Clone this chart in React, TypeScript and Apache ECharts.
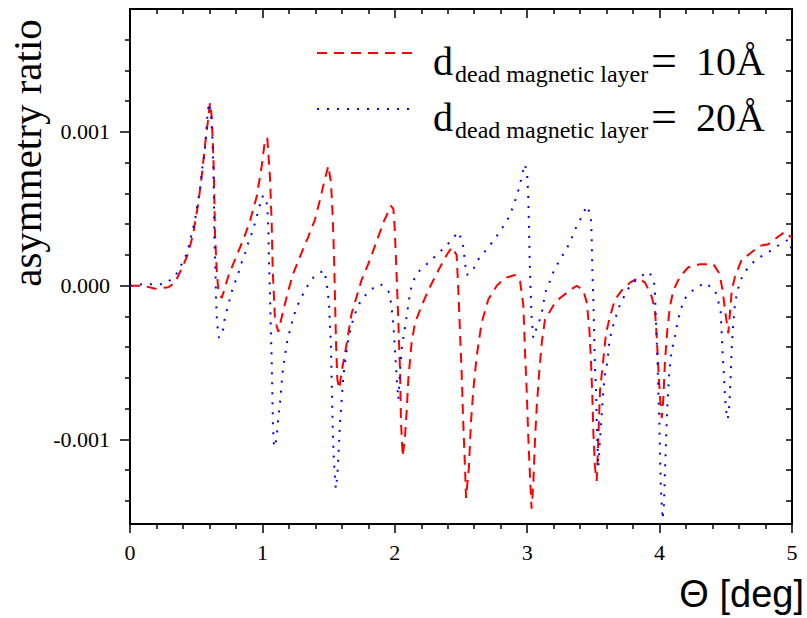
import React, { useEffect, useRef } from "react";
import * as echarts from "echarts";

// Θ [deg] and asymmetry ratio (in units of 1e-3) for d = 10 Å (red, dashed)
const theta10 = [
  0.0, 0.1, 0.19, 0.29, 0.34, 0.4, 0.44, 0.48, 0.516, 0.54, 0.566, 0.587, 0.604, 0.617, 0.63, 0.637, 0.642, 0.655, 0.667, 0.693,
  0.742, 0.793, 0.856, 0.906, 0.957, 0.995, 1.02, 1.037, 1.057, 1.07, 1.078, 1.095, 1.12, 1.158, 1.196, 1.233, 1.284, 1.347, 1.397,
  1.435, 1.468, 1.498, 1.518, 1.531, 1.541, 1.548, 1.556, 1.566, 1.581, 1.6, 1.624, 1.649, 1.674, 1.712, 1.75, 1.813, 1.863, 1.918,
  1.971, 1.989, 2.0, 2.014, 2.027, 2.04, 2.047, 2.06, 2.077, 2.09, 2.102, 2.127, 2.153, 2.203, 2.253, 2.329, 2.392, 2.43, 2.467,
  2.48, 2.492, 2.505, 2.517, 2.53, 2.538, 2.56, 2.575, 2.593, 2.618, 2.656, 2.706, 2.77, 2.832, 2.908, 2.946, 2.971, 2.983, 2.996,
  3.008, 3.02, 3.033, 3.046, 3.06, 3.072, 3.09, 3.11, 3.134, 3.197, 3.248, 3.323, 3.374, 3.424, 3.45, 3.47, 3.482, 3.492, 3.5,
  3.512, 3.525, 3.537, 3.55, 3.575, 3.595, 3.625, 3.663, 3.714, 3.776, 3.839, 3.89, 3.94, 3.965, 3.978, 3.99, 4.003, 4.016, 4.028,
  4.04, 4.058, 4.079, 4.104, 4.154, 4.217, 4.305, 4.406, 4.451, 4.476, 4.494, 4.519, 4.545, 4.57, 4.62, 4.683, 4.758, 4.82, 4.897,
  4.947, 5.0,
];
const ratio10_milli = [
  0.0, 0.0, -0.02, -0.01, 0.02, 0.13, 0.21, 0.35, 0.54, 0.7, 0.91, 1.06, 1.19, 1.1, 0.84, 0.58, 0.34, 0.1, -0.03, -0.08,
  0.06, 0.17, 0.3, 0.42, 0.58, 0.78, 0.95, 0.96, 0.71, 0.41, 0.1, -0.22, -0.3, -0.16, -0.03, 0.08, 0.19, 0.32, 0.43,
  0.56, 0.68, 0.78, 0.67, 0.45, 0.19, -0.07, -0.37, -0.61, -0.67, -0.55, -0.44, -0.31, -0.18, -0.07, 0.04, 0.17, 0.29, 0.42,
  0.52, 0.5, 0.36, 0.06, -0.24, -0.57, -0.89, -1.11, -0.98, -0.81, -0.61, -0.37, -0.24, -0.13, -0.03, 0.1, 0.2, 0.25, 0.2,
  -0.03, -0.29, -0.57, -0.89, -1.18, -1.38, -1.18, -0.89, -0.68, -0.46, -0.24, -0.09, 0.0, 0.05, 0.07, 0.03, -0.13, -0.42, -0.68,
  -0.98, -1.22, -1.45, -1.29, -0.98, -0.79, -0.57, -0.37, -0.22, -0.13, -0.08, -0.03, 0.0, -0.03, -0.11, -0.29, -0.5, -0.72, -0.96,
  -1.18, -1.27, -1.0, -0.68, -0.48, -0.31, -0.2, -0.09, -0.03, 0.02, 0.05, 0.02, -0.07, -0.16, -0.33, -0.53, -0.72, -0.86, -0.74,
  -0.5, -0.29, -0.13, -0.03, 0.06, 0.12, 0.14, 0.14, 0.08, -0.03, -0.16, -0.31, -0.03, 0.06, 0.17, 0.21, 0.26, 0.27, 0.32,
  0.35, 0.31,
];

// Θ [deg] and asymmetry ratio (in units of 1e-3) for d = 20 Å (blue, dotted)
const theta20 = [
  0.0, 0.1, 0.19, 0.26, 0.34, 0.39, 0.43, 0.45, 0.49, 0.516, 0.529, 0.546, 0.561, 0.574, 0.587, 0.597, 0.612, 0.622, 0.63, 0.634,
  0.637, 0.642, 0.647, 0.65, 0.657, 0.672, 0.705, 0.717, 0.742, 0.76, 0.788, 0.818, 0.843, 0.873, 0.9, 0.93, 0.95, 0.977, 0.994,
  1.025, 1.037, 1.045, 1.05, 1.057, 1.063, 1.07, 1.075, 1.08, 1.088, 1.107, 1.12, 1.138, 1.15, 1.163, 1.173, 1.188, 1.208, 1.229,
  1.254, 1.292, 1.334, 1.39, 1.465, 1.485, 1.493, 1.503, 1.51, 1.518, 1.523, 1.528, 1.535, 1.543, 1.554, 1.566, 1.579, 1.586,
  1.599, 1.611, 1.641, 1.656, 1.679, 1.705, 1.742, 1.808, 1.893, 1.954, 1.971, 1.989, 2.0, 2.014, 2.027, 2.04, 2.052, 2.077, 2.09,
  2.102, 2.115, 2.132, 2.178, 2.253, 2.329, 2.41, 2.48, 2.513, 2.523, 2.53, 2.543, 2.585, 2.62, 2.687, 2.752, 2.815, 2.865, 2.895,
  2.92, 2.946, 2.963, 2.983, 3.0, 3.008, 3.014, 3.019, 3.026, 3.033, 3.046, 3.06, 3.084, 3.11, 3.134, 3.172, 3.202, 3.248, 3.298,
  3.336, 3.374, 3.412, 3.45, 3.48, 3.487, 3.492, 3.5, 3.507, 3.512, 3.52, 3.525, 3.532, 3.537, 3.55, 3.562, 3.575, 3.588, 3.605,
  3.62, 3.638, 3.663, 3.688, 3.726, 3.776, 3.852, 3.923, 3.958, 3.965, 3.973, 3.983, 3.99, 3.998, 4.003, 4.01, 4.023, 4.033, 4.04,
  4.048, 4.058, 4.074, 4.091, 4.109, 4.121, 4.134, 4.159, 4.184, 4.262, 4.343, 4.418, 4.443, 4.461, 4.469, 4.476, 4.486, 4.494,
  4.502, 4.514, 4.524, 4.532, 4.539, 4.545, 4.557, 4.57, 4.588, 4.607, 4.653, 4.726, 4.809, 4.892, 4.972, 5.0,
];
const ratio20_milli = [
  0.0, 0.01, 0.01, 0.01, 0.06, 0.14, 0.21, 0.28, 0.42, 0.56, 0.63, 0.77, 0.84, 0.98, 1.13, 1.19, 1.11, 0.96, 0.76, 0.54,
  0.32, 0.19, 0.04, -0.1, -0.24, -0.34, -0.28, -0.2, -0.13, -0.06, 0.01, 0.08, 0.15, 0.22, 0.3, 0.36, 0.43, 0.51, 0.58,
  0.58, 0.51, 0.36, 0.15, -0.05, -0.27, -0.48, -0.7, -0.92, -1.05, -1.0, -0.86, -0.72, -0.58, -0.5, -0.44, -0.36, -0.29, -0.22,
  -0.15, -0.08, -0.01, 0.06, 0.1, 0.03, -0.04, -0.11, -0.25, -0.4, -0.61, -0.82, -1.04, -1.18, -1.32, -1.24, -1.02, -0.89,
  -0.74, -0.59, -0.39, -0.32, -0.24, -0.17, -0.1, -0.03, 0.01, -0.04, -0.11, -0.25, -0.4, -0.6, -0.74, -0.55, -0.41, -0.27, -0.2,
  -0.12, -0.05, 0.02, 0.09, 0.15, 0.21, 0.28, 0.35, 0.28, 0.21, 0.15, 0.07, 0.09, 0.16, 0.23, 0.3, 0.38, 0.45, 0.52,
  0.58, 0.66, 0.73, 0.79, 0.72, 0.58, 0.36, 0.15, -0.03, -0.2, -0.34, -0.3, -0.25, -0.18, -0.05, 0.03, 0.1, 0.17, 0.24,
  0.31, 0.39, 0.45, 0.52, 0.46, 0.32, 0.1, -0.11, -0.37, -0.53, -0.68, -0.87, -1.07, -1.18, -1.0, -0.85, -0.68, -0.57, -0.5,
  -0.37, -0.29, -0.22, -0.15, -0.08, 0.0, 0.06, 0.09, 0.02, -0.05, -0.24, -0.46, -0.68, -0.89, -1.11, -1.33, -1.52, -1.42, -1.22,
  -1.02, -0.79, -0.55, -0.42, -0.36, -0.31, -0.24, -0.16, -0.09, -0.02, 0.02, -0.03, -0.1, -0.17, -0.31, -0.44, -0.59, -0.72,
  -0.81, -0.87, -0.81, -0.68, -0.54, -0.4, -0.24, -0.11, -0.04, 0.03, 0.1, 0.17, 0.21, 0.26, 0.3, 0.23,
];

const xTicks = [0, 1, 2, 3, 4, 5];
const yMajorTicks = [-0.001, 0, 0.001];
const yMinorTicks = [
  -0.0014, -0.0012, -0.0008, -0.0006, -0.0004, -0.0002, 0.0002, 0.0004, 0.0006, 0.0008, 0.0012, 0.0014, 0.0016,
];
const legendValues = ["10Å", "20Å"];
const legendSub = "dead magnetic layer";

const SERIF = '"Liberation Serif", "Times New Roman", serif';
const SANS = '"Liberation Sans", Arial, sans-serif';

export default function App() {
  const ref = useRef<HTMLDivElement>(null);
  useEffect(() => {
    if (!ref.current) return;
    const chart = echarts.init(ref.current, null, { renderer: "svg" });
    const yMin = -0.00155;
    const yMax = 0.0018;
    const lineBlack = { color: "#000", width: 2 };
    const d10 = theta10.map((t, i) => [t, ratio10_milli[i] * 1e-3]);
    const d20 = theta20.map((t, i) => [t, ratio20_milli[i] * 1e-3]);
    const allY = [...yMajorTicks, ...yMinorTicks];

    const txt = (x: number, y: number, text: string, size: number) => ({
      type: "text",
      x,
      y,
      style: { text, fontSize: size, fontFamily: SERIF, fill: "#000", align: "left", verticalAlign: "middle" },
    });
    const legendRow = (base: number, idx: number) => [
      txt(433, base - 13.5, "d", 40),
      txt(455, base - 1.1, legendSub, 24),
      txt(651, base - 15, "=", 46),
      txt(696, base - 13.5, legendValues[idx], 40),
    ];

    chart.setOption({
      animation: false,
      backgroundColor: "#fff",
      grid: { left: 130, right: 15, top: 9, bottom: 94, containLabel: false },
      xAxis: [
        {
          type: "value",
          min: 0,
          max: 5,
          interval: 1,
          position: "bottom",
          axisLine: { show: true, onZero: false, lineStyle: lineBlack },
          axisTick: { show: true, length: 9, lineStyle: { color: "#000", width: 1.5 } },
          minorTick: { show: true, splitNumber: 5, length: 5, lineStyle: { color: "#000", width: 1.5 } },
          axisLabel: {
            show: true,
            margin: 17,
            fontSize: 22,
            fontFamily: SERIF,
            color: "#000",
            formatter: (v: number) => (xTicks.includes(v) ? String(v) : ""),
          },
          splitLine: { show: false },
        },
        {
          type: "value",
          min: 0,
          max: 5,
          interval: 1,
          position: "top",
          axisLine: { show: true, onZero: false, lineStyle: lineBlack },
          axisTick: { show: true, inside: true, length: 9, lineStyle: { color: "#000", width: 1.5 } },
          minorTick: { show: true, splitNumber: 5, length: 5, lineStyle: { color: "#000", width: 1.5 } },
          axisLabel: { show: false },
          splitLine: { show: false },
        },
      ],
      yAxis: [
        {
          type: "value",
          min: yMin,
          max: yMax,
          position: "left",
          axisLine: { show: true, onZero: false, lineStyle: lineBlack },
          axisTick: { show: true, length: 10, customValues: yMajorTicks, lineStyle: { color: "#000", width: 1.5 } },
          axisLabel: {
            show: true,
            margin: 20,
            fontSize: 22,
            fontFamily: SERIF,
            color: "#000",
            customValues: yMajorTicks,
            formatter: (v: number) => v.toFixed(3),
          },
          splitLine: { show: false },
        },
        {
          type: "value",
          min: yMin,
          max: yMax,
          position: "left",
          axisLine: { show: false },
          axisTick: { show: true, length: 5, customValues: yMinorTicks, lineStyle: { color: "#000", width: 1.5 } },
          axisLabel: { show: false },
          splitLine: { show: false },
        },
        {
          type: "value",
          min: yMin,
          max: yMax,
          position: "right",
          axisLine: { show: true, onZero: false, lineStyle: lineBlack },
          axisTick: { show: true, inside: true, length: 6, customValues: allY, lineStyle: { color: "#000", width: 1.5 } },
          axisLabel: { show: false },
          splitLine: { show: false },
        },
      ],
      series: [
        {
          type: "line",
          name: "d = 10Å",
          data: d10,
          xAxisIndex: 0,
          yAxisIndex: 0,
          showSymbol: false,
          symbol: "none",
          lineStyle: { color: "#ff0000", width: 2, type: [10, 7] },
          z: 3,
        },
        {
          type: "line",
          name: "d = 20Å",
          data: d20,
          xAxisIndex: 0,
          yAxisIndex: 0,
          showSymbol: false,
          symbol: "none",
          lineStyle: { color: "#0000ff", width: 2, type: [2, 8] },
          z: 4,
        },
      ],
      graphic: [
        {
          type: "line",
          shape: { x1: 317, y1: 53, x2: 417, y2: 53 },
          style: { stroke: "#ff0000", lineWidth: 2, lineDash: [10, 7] },
        },
        {
          type: "line",
          shape: { x1: 317, y1: 109, x2: 417, y2: 109 },
          style: { stroke: "#0000ff", lineWidth: 2, lineDash: [2, 8] },
        },
        ...legendRow(75, 0),
        ...legendRow(131, 1),
        {
          type: "text",
          x: 27,
          y: 153,
          rotation: Math.PI / 2,
          style: {
            text: "asymmetry ratio",
            fontSize: 41,
            fontFamily: SERIF,
            fill: "#000",
            align: "center",
            verticalAlign: "middle",
          },
        },
        {
          type: "text",
          x: 804,
          y: 594,
          style: {
            text: "Θ [deg]",
            fontSize: 38,
            fontFamily: SANS,
            fill: "#000",
            align: "right",
            verticalAlign: "middle",
          },
        },
      ],
    });
    return () => chart.dispose();
  }, []);
  return <div ref={ref} style={{ position: "fixed", left: 0, top: 0, width: 807, height: 618 }} />;
}
